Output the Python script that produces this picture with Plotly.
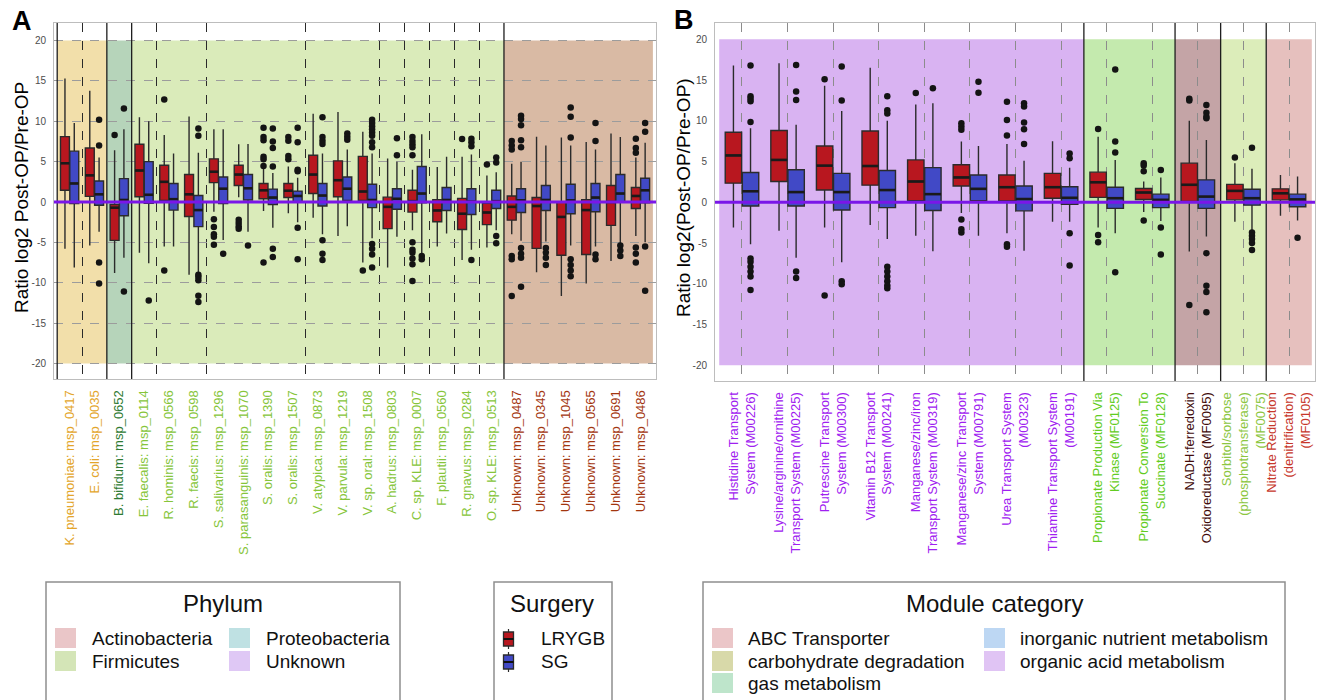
import plotly.graph_objects as go

W, H = 1318, 700

# ---------------- Panel A data ----------------
A_labels = ["K. pneumoniae: msp_0417", "E. coli: msp_0035", "B. bifidum: msp_0652", "E. faecalis: msp_0114",
            "R. hominis: msp_0566", "R. faecis: msp_0598", "S. salivarius: msp_1296", "S. parasanguinis: msp_1070",
            "S. oralis: msp_1390", "S. oralis: msp_1507", "V. atypica: msp_0873", "V. parvula: msp_1219",
            "V. sp. oral: msp_1508", "A. hadrus: msp_0803", "C. sp. KLE: msp_0007", "F. plautii: msp_0560",
            "R. gnavus: msp_0284", "O. sp. KLE: msp_0513", "Unknown: msp_0487", "Unknown: msp_0345",
            "Unknown: msp_1045", "Unknown: msp_0565", "Unknown: msp_0691", "Unknown: msp_0486"]
A_phylum = ["Proteobacteria"] * 2 + ["Actinobacteria"] + ["Firmicutes"] * 15 + ["Unknown"] * 6

A_lrygb_q1 = [1.45, 0.7, -4.75, 0.65, 0.2, -1.8, 2.4, 2.05, 0.4, 0.55, 1.05, 0.65, 0.2, -3.3, -1.25, -2.45, -3.4, -2.8, -2.25, -5.75, -6.6, -6.5, -2.9, -0.8]
A_lrygb_med = [4.8, 3.3, -0.7, 3.9, 2.5, 0.95, 3.75, 3.4, 1.45, 1.4, 3.4, 2.7, 1.3, -0.6, 0.1, -1.05, -1.45, -1.3, -0.6, -0.5, -1.85, -1.0, 0.0, 0.75]
A_lrygb_q3 = [8.1, 6.7, -0.3, 7.15, 4.55, 3.4, 5.35, 4.55, 2.3, 2.3, 5.8, 5.1, 5.65, 0.6, 1.45, 0.3, 0.45, -0.15, 0.75, 0.55, 0.0, 0.3, 2.05, 1.8]
A_lrygb_lo = [-5.8, -5.4, -8.8, -6.3, -5.5, -9.0, -1.2, 0.6, -1.1, -1.4, -1.95, -4.2, -7.5, -8.1, -3.5, -5.5, -7.2, -5.65, -4.0, -8.7, -11.65, -10.1, -7.3, -4.2]
A_lrygb_hi = [15.3, 13.8, 6.4, 10.5, 8.3, 10.6, 9.0, 7.15, 4.25, 4.4, 10.95, 11.15, 8.7, 5.4, 4.0, 4.35, 5.6, 3.3, 4.75, 8.1, 8.0, 7.45, 8.5, 5.5]
A_lrygb_out = [[], [], [8.3], [], [12.7, -8.5], [], [-2.15, -3.1, -4.0, -4.3, -5.3], [-2.2, -2.6, -3.0, -3.3],
               [9.2, 8.05, 7.65, 5.6, 5.3, 4.45, -7.5], [8.05, 7.6, 5.7, 5.3], [], [], [-8.5], [],
               [8.05, 7.55, 7.15, 6.8, 5.8, -5.0, -5.9, -6.3, -7.0, -7.7, -9.8], [], [7.8], [4.65],
               [7.55, 7.0, 6.5, -6.7, -7.1, -11.65], [], [], [], [], [7.85, 6.7, 6.1, -5.65, -6.4, -7.5]]

A_sg_q1 = [-0.2, -0.4, -1.7, -0.15, -1.0, -3.05, -0.2, 0.25, -0.3, 0.0, -0.5, 0.2, -0.7, -0.9, -0.1, -1.05, -1.55, -0.8, -1.3, -1.05, -1.45, -1.2, 0.0, -0.1]
A_sg_med = [2.3, 0.95, 0.25, 0.9, 0.35, -1.0, 1.65, 1.7, 0.55, 0.75, 0.8, 1.65, 0.25, 0.4, 1.05, 0.25, 0.05, 0.1, 0.2, 0.25, 0.2, 0.55, 1.05, 1.45]
A_sg_q3 = [6.3, 2.6, 2.9, 5.0, 2.3, 0.8, 3.1, 3.4, 1.6, 1.35, 2.3, 3.1, 2.2, 1.65, 4.4, 1.8, 1.65, 1.45, 1.65, 2.05, 2.2, 2.3, 3.4, 2.95]
A_sg_lo = [-8.1, -3.7, -6.9, -7.6, -5.5, -8.8, -4.7, -3.7, -3.2, -2.5, -4.0, -3.0, -4.5, -4.3, -6.5, -3.9, -5.9, -3.5, -4.8, -4.9, -5.4, -5.5, -5.25, -5.0]
A_sg_hi = [9.8, 5.5, 9.0, 10.0, 6.0, 6.1, 9.0, 7.2, 3.6, 3.0, 6.0, 6.5, 6.0, 5.0, 8.4, 5.6, 5.9, 3.7, 5.0, 7.0, 7.0, 6.5, 8.05, 7.35]
A_sg_out = [[], [10.2, 7.0, -7.5, -10.1], [11.6, -11.1], [-12.2], [], [9.1, 8.2, -9.0, -9.3, -9.7, -11.6, -12.4],
            [-6.4], [-5.4], [9.1, 7.5, 6.7, 4.4, -5.8, -6.8], [9.2, 7.4, 4.0, 3.8, -3.2, -7.1],
            [10.5, 8.05, 7.6, 7.2, -4.75, -6.4, -7.2], [8.5, 8.1, 7.7],
            [10.2, 9.8, 9.4, 9.0, 8.6, 8.2, 7.4, 6.8, -5.2, -5.8, -6.5, -8.1], [7.9, 5.8], [-6.7, -7.1], [],
            [7.85, 7.4, 6.9, -7.2], [5.5, 4.9, -4.2, -5.1], [10.7, 10.3, 9.5, 7.65, 6.8, -5.7, -6.4, -6.9, -10.5],
            [-5.7, -6.3, -6.9, -7.8], [11.7, 10.55, 8.0, -7.1, -7.8, -8.5, -9.2], [9.8, 7.55, -6.5, -7.1],
            [-5.4, -6.0, -6.7], [9.8, 8.7, -5.5, -11.0]]

# ---------------- Panel B data ----------------
B_labels = ["Histidine Transport\nSystem (M00226)", "Lysine/arginine/ornithine\nTransport System (M00225)",
            "Putrescine Transport\nSystem (M00300)", "Vitamin B12 Transport\nSystem (M00241)",
            "Manganese/zinc/iron\nTransport System (M00319)", "Manganese/zinc Transport\nSystem (M00791)",
            "Urea Transport System\n(M00323)", "Thiamine Transport System\n(M00191)",
            "Propionate Production Via\nKinase (MF0125)", "Propionate Conversion To\nSuccinate (MF0128)",
            "NADH:ferredoxin\nOxidoreductase (MF0095)", "Sorbitol/sorbose\n(phosphotransferase)\n(MF0075)",
            "Nitrate Reduction\n(denitrification)\n(MF0105)"]
B_category = ["transport"] * 8 + ["propionate"] * 2 + ["nadh", "sorbitol", "nitrate"]

B_lrygb_q1 = [2.35, 2.55, 1.5, 2.1, 0.2, 2.0, 0.15, 0.5, 0.6, 0.35, 0.1, 0.3, 0.3]
B_lrygb_med = [5.75, 5.2, 4.5, 4.45, 2.55, 3.05, 1.85, 1.85, 2.45, 1.2, 2.15, 1.4, 1.1]
B_lrygb_q3 = [8.6, 8.8, 6.9, 8.75, 5.2, 4.6, 3.35, 3.55, 3.7, 1.7, 4.8, 2.2, 1.65]
B_lrygb_lo = [-3.1, -3.5, -3.1, -2.8, -4.1, -1.3, -3.8, -2.4, -3.1, -1.2, -6.05, -2.4, -1.65]
B_lrygb_hi = [16.8, 17.05, 14.3, 16.5, 12.0, 7.45, 7.15, 7.5, 8.05, 2.55, 10.0, 4.8, 3.35]
B_lrygb_out = [[], [], [15.1, -11.45], [], [13.4], [9.7, 9.3, 8.9, -2.1, -3.3, -3.7], [12.35, 10.1, 8.2, -5.15, -5.45],
               [], [9.0, -4.0, -4.9], [4.8, 4.5, 3.8, -2.25], [12.7, 12.5, -12.6], [5.5], []]

B_sg_q1 = [-0.45, -0.45, -0.95, -0.65, -1.0, 0.2, -1.05, -0.25, -0.75, -0.65, -0.75, -0.35, -0.55]
B_sg_med = [1.35, 1.25, 1.25, 1.5, 1.0, 1.65, 0.4, 0.55, 0.5, 0.3, 0.7, 0.5, 0.35]
B_sg_q3 = [3.65, 4.0, 3.55, 3.9, 4.25, 3.35, 2.0, 1.9, 1.85, 1.0, 2.75, 1.6, 1.0]
B_sg_lo = [-5.15, -6.8, -7.35, -4.5, -6.0, -4.1, -5.95, -2.4, -3.8, -2.3, -4.2, -3.4, -2.25]
B_sg_hi = [9.1, 9.5, 11.2, 10.0, 12.15, 6.9, 5.1, 4.25, 5.2, 3.05, 7.65, 4.1, 3.15]
B_sg_out = [[16.8, 13.0, 12.7, 12.4, 9.85, -6.9, -7.3, -7.9, -8.5, -9.1, -10.75],
            [16.85, 13.6, 12.55, -8.5, -9.3], [16.65, 12.5, -9.7, -10.05],
            [13.0, 11.3, 10.9, -7.9, -8.5, -9.1, -9.7, -10.2, -10.55], [14.0], [14.8, 13.45],
            [12.15, 11.75, 9.8, 8.95, 7.15], [6.0, 5.4, -3.8, -7.75], [16.3, 7.45, 6.1, -8.6],
            [3.95, -3.1, -6.4], [11.95, 11.0, 10.5, 10.3, -6.25, -10.25, -11.0, -13.5],
            [6.7, -3.7, -4.1, -4.5, -5.0, -5.85], [-4.35]]

Y_TICKS = [20, 15, 10, 5, 0, -5, -10, -15, -20]
Y_TICKTEXT = ["20", "15", "10", "5", "0", "-5", "-10", "-15", "-20"]

# legend contents
PHYLUM_LEGEND = ["Actinobacteria", "Firmicutes", "Proteobacteria", "Unknown"]
SURGERY_LEGEND = ["LRYGB", "SG"]
MODULE_LEGEND = ["ABC Transporter", "carbohydrate degradation", "gas metabolism",
                 "inorganic nutrient metabolism", "organic acid metabolism"]

# ---------------- styles ----------------
FONT = "Liberation Sans, Arial, Helvetica, sans-serif"
RED, BLUE = "#B8171F", "#4149C6"
EDGE = "#2B2B2B"
ZERO_COLOR = "#7A16E8"
A_shade = {"Proteobacteria": "#F2DFAA", "Actinobacteria": "#B6D4BA", "Firmicutes": "#DAEBBA", "Unknown": "#D9BAA4"}
A_text = {"Proteobacteria": "#E3A52A", "Actinobacteria": "#2E7A32", "Firmicutes": "#86C53A", "Unknown": "#A3360F"}
B_shade = {"transport": "#D9B3F2", "propionate": "#C4EAAE", "nadh": "#C4A4A6", "sorbitol": "#DCEDBA", "nitrate": "#E6C0BE"}
B_text = {"transport": "#A020F0", "propionate": "#62CC22", "nadh": "#420B0B", "sorbitol": "#8CC63F", "nitrate": "#C7372B"}
PHYLUM_SW = {"Actinobacteria": "#EAC6C8", "Firmicutes": "#D4E5B7", "Proteobacteria": "#BFE1E3", "Unknown": "#DFC8F5"}
MODULE_SW = {"ABC Transporter": "#EBC6C8", "carbohydrate degradation": "#D8D9A9", "gas metabolism": "#BEE5CB",
             "inorganic nutrient metabolism": "#BDD7F3", "organic acid metabolism": "#E0C4F4"}

DODGE = 0.1875
BOX_W = 0.36

fig = go.Figure()


def px_x(x):
    return x / W


def px_y(y):
    return 1 - y / H


def add_panel(xa, ya, q1s, meds, q3s, los, his, outs, color, sign):
    n = len(q1s)
    pos = [i + 1 + sign * DODGE for i in range(n)]
    fig.add_trace(go.Box(x=pos, q1=q1s, median=meds, q3=q3s, lowerfence=los, upperfence=his,
                         fillcolor=color, line=dict(color=EDGE, width=1.4), width=BOX_W,
                         whiskerwidth=0, boxpoints=False, xaxis=xa, yaxis=ya, hoverinfo="skip"))
    mx, my = [], []
    for p, m in zip(pos, meds):
        mx += [p - BOX_W / 2, p + BOX_W / 2, None]
        my += [m, m, None]
    fig.add_trace(go.Scatter(x=mx, y=my, mode="lines", line=dict(color="#1A1A1A", width=2.6),
                             xaxis=xa, yaxis=ya, hoverinfo="skip"))
    ox, oy = [], []
    for p, o in zip(pos, outs):
        ox += [p] * len(o)
        oy += o
    fig.add_trace(go.Scatter(x=ox, y=oy, mode="markers", marker=dict(color="#141414", size=6.5),
                             xaxis=xa, yaxis=ya, hoverinfo="skip"))


add_panel("x", "y", A_lrygb_q1, A_lrygb_med, A_lrygb_q3, A_lrygb_lo, A_lrygb_hi, A_lrygb_out, RED, -1)
add_panel("x", "y", A_sg_q1, A_sg_med, A_sg_q3, A_sg_lo, A_sg_hi, A_sg_out, BLUE, 1)
add_panel("x2", "y2", B_lrygb_q1, B_lrygb_med, B_lrygb_q3, B_lrygb_lo, B_lrygb_hi, B_lrygb_out, RED, -1)
add_panel("x2", "y2", B_sg_q1, B_sg_med, B_sg_q3, B_sg_lo, B_sg_hi, B_sg_out, BLUE, 1)

shapes = []


def runs(groups):
    out = []
    start = 0
    for i in range(1, len(groups) + 1):
        if i == len(groups) or groups[i] != groups[start]:
            out.append((groups[start], start + 1, i))
            start = i
    return out


def shade(groups, cmap, xr, yr, edge_line):
    rr = runs(groups)
    for g, a, b in rr:
        shapes.append(dict(type="rect", xref=xr, yref=yr, x0=a - 0.5, x1=b + 0.5, y0=-20, y1=20,
                           fillcolor=cmap[g], line=dict(width=0), layer="below"))
    bounds = [b + 0.5 for _, _, b in rr[:-1]]
    if edge_line:
        bounds = [0.5] + bounds
    for bx in bounds:
        shapes.append(dict(type="line", xref=xr, yref=yr + " domain", x0=bx, x1=bx, y0=0, y1=1,
                           line=dict(color="#1E1E1E", width=1.3)))


shade(A_phylum, A_shade, "x", "y", True)
shade(B_category, B_shade, "x2", "y2", False)

# genus breaks (panel A dashed lines) from first token of names, within phylum
genus = [lab.split(" ")[0] for lab in A_labels]
A_breaks = [i + 1.5 for i in range(len(genus) - 1)
            if genus[i] != genus[i + 1] and A_phylum[i] == A_phylum[i + 1]]

# zero lines on top
for xr, yr in (("x", "y"), ("x2", "y2")):
    shapes.append(dict(type="line", xref=xr + " domain", yref=yr, x0=0, x1=1, y0=0, y1=0,
                       line=dict(color=ZERO_COLOR, width=3)))

# ---------------- legend boxes ----------------
LEG_TOP, LEG_BOT = 582, 720
for x0, x1 in ((46, 400), (494, 612), (703, 1285)):
    shapes.append(dict(type="rect", xref="paper", yref="paper", x0=px_x(x0), x1=px_x(x1),
                       y0=px_y(LEG_BOT), y1=px_y(LEG_TOP), line=dict(color="#8E8E8E", width=1.5),
                       fillcolor="rgba(0,0,0,0)"))

annotations = []


def text(x, y, s, size, anchor="left", color="#111", angle=0, bold=False):
    annotations.append(dict(x=px_x(x), y=px_y(y), xref="paper", yref="paper", text=("<b>%s</b>" % s) if bold else s,
                            showarrow=False, xanchor=anchor, yanchor="middle", textangle=angle,
                            font=dict(size=size, color=color, family=FONT)))


def swatch(x, y, color, w=21, h=20):
    shapes.append(dict(type="rect", xref="paper", yref="paper", x0=px_x(x), x1=px_x(x + w),
                       y0=px_y(y + h / 2), y1=px_y(y - h / 2), fillcolor=color, line=dict(width=0)))


ROWS = [638, 661, 683]
text(223, 603, "Phylum", 24, "center")
for k, name in enumerate(PHYLUM_LEGEND):
    col, row = divmod(k, 2)
    sx = 55 + col * 174
    swatch(sx, ROWS[row], PHYLUM_SW[name])
    text(sx + 35, ROWS[row], name, 19)

text(552, 603, "Surgery", 24, "center")
for k, (name, col) in enumerate(zip(SURGERY_LEGEND, (RED, BLUE))):
    cy = ROWS[k] + 1
    shapes.append(dict(type="line", xref="paper", yref="paper", x0=px_x(508.5), x1=px_x(508.5),
                       y0=px_y(cy + 10), y1=px_y(cy - 10), line=dict(color=EDGE, width=1.2)))
    shapes.append(dict(type="rect", xref="paper", yref="paper", x0=px_x(503.5), x1=px_x(513.5),
                       y0=px_y(cy + 7), y1=px_y(cy - 7), fillcolor=col, line=dict(color=EDGE, width=1.3)))
    shapes.append(dict(type="line", xref="paper", yref="paper", x0=px_x(503.5), x1=px_x(513.5),
                       y0=px_y(cy), y1=px_y(cy), line=dict(color="#111", width=2)))
    text(539, ROWS[k], name, 19)

text(994, 603, "Module category", 24, "center")
for k, name in enumerate(MODULE_LEGEND):
    col, row = (0, k) if k < 3 else (1, k - 3)
    sx = 712 + col * 272
    swatch(sx, ROWS[row], MODULE_SW[name])
    text(sx + 34, ROWS[row], name, 19)

# panel letters and axis titles
text(22, 21, "A", 27, "center", "#000", bold=True)
text(684, 20, "B", 27, "center", "#000", bold=True)
text(21, 198, "Ratio log2 Post-OP/Pre-OP", 19, "center", "#000", angle=-90)
text(683, 198, "Ratio log2(Post-OP/Pre-OP)", 19, "center", "#000", angle=-90)

# ---------------- tick labels ----------------
A_ticktext = ['<span style="color:%s">%s</span>' % (A_text[g], lab) for lab, g in zip(A_labels, A_phylum)]
B_ticktext = ["<br>".join('<span style="color:%s">%s</span>' % (B_text[g], ln) for ln in lab.split("\n"))
              for lab, g in zip(B_labels, B_category)]

y_common = dict(tickmode="array", tickvals=Y_TICKS, ticktext=Y_TICKTEXT, ticks="",
                tickfont=dict(size=10, color="#4D4D4D", family=FONT), zeroline=False,
                showline=True, mirror=True, linecolor="#BDBDBD", linewidth=1,
                ticklabelstandoff=5, automargin=False)

fig.update_layout(
    width=W, height=H, margin=dict(l=0, r=0, t=0, b=0), showlegend=False,
    paper_bgcolor="white", plot_bgcolor="white", font=dict(family=FONT),
    xaxis=dict(domain=[px_x(54), px_x(656)], range=[0.371, 24.625], tickmode="array",
               tickvals=list(range(1, len(A_labels) + 1)), ticktext=A_ticktext, tickangle=-90,
               tickfont=dict(size=13, family=FONT), ticks="", showgrid=False, zeroline=False,
               showline=True, mirror=True, linecolor="#BDBDBD", ticklabelstandoff=5, automargin=False,
               minor=dict(tickmode="array", tickvals=A_breaks, showgrid=True, gridcolor="#2A2A2A",
                          griddash="dash", gridwidth=1, ticks="")),
    yaxis=dict(domain=[px_y(379), px_y(23)], range=[-21.93, 22.18], showgrid=True, gridcolor="#9C9C9C",
               griddash="dash", gridwidth=1, **y_common),
    xaxis2=dict(domain=[px_x(715), px_x(1315)], range=[0.408, 13.57], tickmode="array",
                tickvals=list(range(1, len(B_labels) + 1)), ticktext=B_ticktext, tickangle=-90,
                tickfont=dict(size=13, family=FONT), ticks="", showgrid=True, gridcolor="#8C8C8C",
                griddash="dash", gridwidth=1, zeroline=False, showline=True, mirror=True,
                linecolor="#BDBDBD", ticklabelstandoff=5, automargin=False, anchor="y2"),
    yaxis2=dict(domain=[px_y(381), px_y(23)], range=[-21.93, 22.0], showgrid=False, anchor="x2", **y_common),
    shapes=shapes, annotations=annotations,
)

fig.write_html("out.html", config={"displayModeBar": False},
               post_script="document.body.style.margin='0';")
